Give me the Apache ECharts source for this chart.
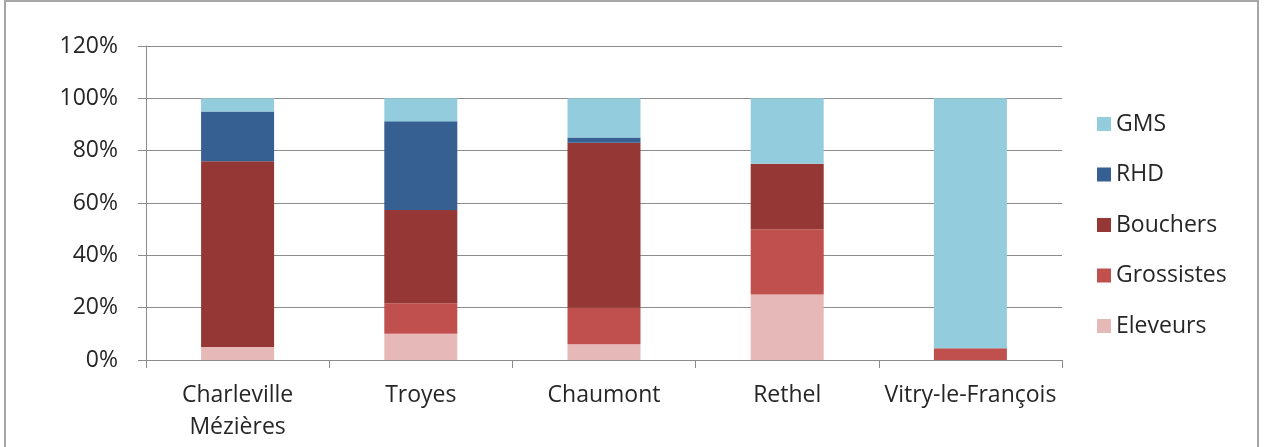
<!DOCTYPE html>
<html>
<head>
<meta charset="utf-8">
<script src="https://cdn.jsdelivr.net/npm/echarts@6/dist/echarts.min.js"></script>
<style>
html,body{margin:0;padding:0;background:#fff;}
#c{width:1272px;height:447px;}
</style>
</head>
<body>
<div id="c"></div>
<script>
const categories = ['Charleville\nMézières', 'Troyes', 'Chaumont', 'Rethel', 'Vitry-le-François'];
const eleveurs   = [5, 10, 6, 25, 0];
const grossistes = [0, 11.7, 14, 25, 4.5];
const bouchers   = [71, 35.6, 63, 25, 0];
const rhd        = [19, 33.9, 2, 0, 0];
const gms        = [5, 8.8, 15, 25, 95.5];
const yTicks = [0, 20, 40, 60, 80, 100, 120];

const FONT = 'Open Sans';
const TXT = '#262626';
const GRIDC = '#8c8c8c';

const chart = echarts.init(document.getElementById('c'), null, {renderer: 'canvas'});
function s(name, data, color) {
  return {name: name, type: 'bar', stack: 'total', data: data, barWidth: 73,
          itemStyle: {color: color}, emphasis: {disabled: true}};
}
chart.setOption({
  animation: false,
  backgroundColor: '#fff',
  textStyle: {fontFamily: FONT},
  graphic: [{
    type: 'rect', shape: {x: 5, y: 1, width: 1253, height: 500},
    style: {fill: 'none', stroke: '#a6a6a6', lineWidth: 2}, silent: true
  }],
  grid: {left: 146, right: 210, top: 46, bottom: 87, containLabel: false},
  legend: {
    orient: 'vertical', left: 1097, top: 112, padding: 0,
    itemWidth: 14, itemHeight: 14, itemGap: 26.5, icon: 'rect',
    data: ['GMS', 'RHD', 'Bouchers', 'Grossistes', 'Eleveurs'],
    textStyle: {fontFamily: FONT, fontSize: 23, color: TXT, lineHeight: 24}
  },
  xAxis: {
    type: 'category', data: categories,
    axisLine: {show: true, lineStyle: {color: GRIDC, width: 1}},
    axisTick: {show: true, length: 8, lineStyle: {color: GRIDC}},
    axisLabel: {interval: 0, fontFamily: FONT, fontSize: 23, color: TXT, lineHeight: 32, margin: 19}
  },
  yAxis: {
    type: 'value', min: yTicks[0], max: yTicks[yTicks.length - 1], interval: 20,
    axisLine: {show: true, lineStyle: {color: GRIDC, width: 1}},
    axisTick: {show: true, length: 8, lineStyle: {color: GRIDC}},
    splitLine: {show: true, lineStyle: {color: GRIDC, width: 1}},
    axisLabel: {formatter: '{value}%', fontFamily: FONT, fontSize: 23, color: TXT, margin: 28}
  },
  series: [
    s('Eleveurs', eleveurs, '#e6b9b8'),
    s('Grossistes', grossistes, '#c0504d'),
    s('Bouchers', bouchers, '#953735'),
    s('RHD', rhd, '#376092'),
    s('GMS', gms, '#93cddd')
  ]
});
</script>
</body>
</html>
